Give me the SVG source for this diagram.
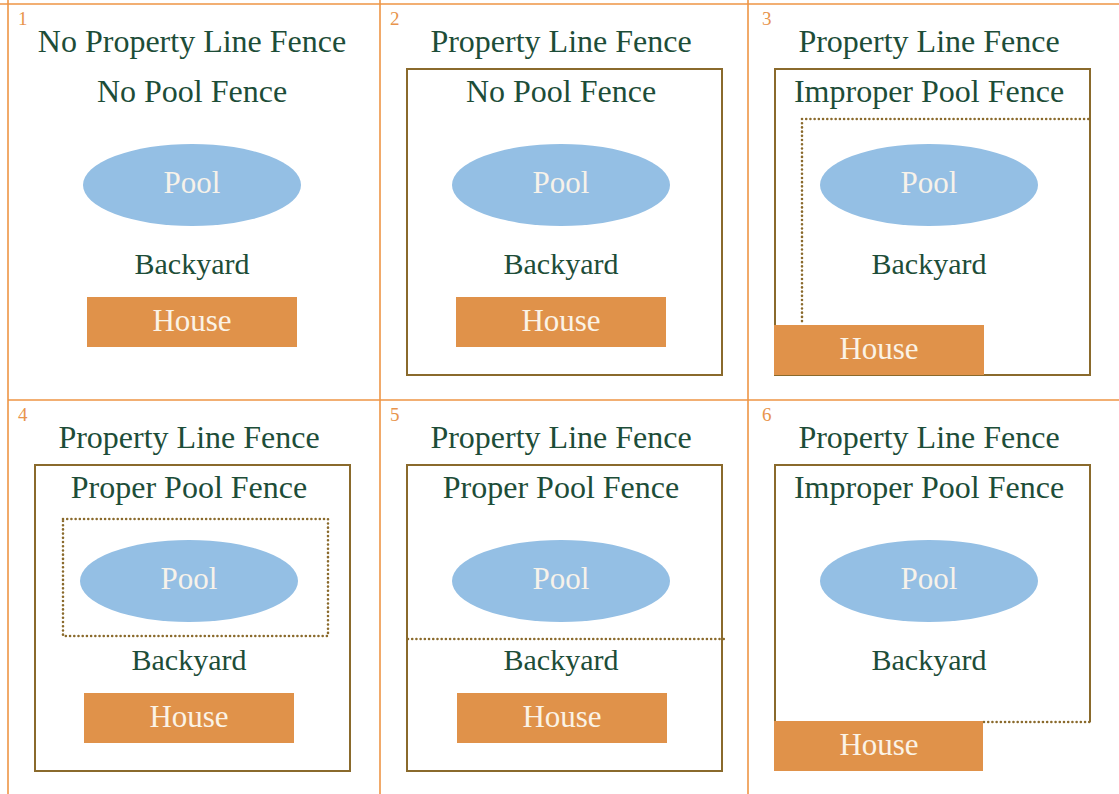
<svg xmlns="http://www.w3.org/2000/svg" width="1119" height="794" viewBox="0 0 1119 794">
  <style>
    text { font-family: "Liberation Serif", "Times New Roman", serif; text-anchor: middle; }
    .lbl { font-size: 32px; fill: #1D4D38; }
    .yard { font-size: 30px; fill: #1D4D38; }
    .pooltxt { font-size: 31px; fill: #F7F2EA; }
    .housetxt { font-size: 31px; fill: #FBF3E6; }
    .num { font-size: 19px; fill: #E8944C; text-anchor: start; }
    .grid { stroke: #EE9545; stroke-width: 1.6; fill: none; }
    .pool { fill: #94BFE4; }
    .house { fill: #E0924A; }
    .fence { fill: none; stroke: #8A6A2C; stroke-width: 2; }
    .dots { fill: none; stroke: #8A6A2C; stroke-width: 2.6; stroke-linecap: round; stroke-dasharray: 0.01 4.2; }
  </style>
  <rect width="1119" height="794" fill="#FFFFFF"/>

  <!-- cell grid -->
  <g id="grid" class="grid">
    <line x1="0" y1="4" x2="1119" y2="4"/>
    <line x1="8" y1="400" x2="1119" y2="400"/>
    <line x1="8" y1="0" x2="8" y2="794"/>
    <line x1="380" y1="0" x2="380" y2="794"/>
    <line x1="748" y1="0" x2="748" y2="794"/>
  </g>

  <!-- fences (lines between areas) -->
  <g id="connectors">
    <rect class="fence" x="407" y="69" width="315" height="306"/>
    <rect class="fence" x="775" y="69" width="315" height="306"/>
    <path class="dots" d="M802,119 H1092 M802,119 V325"/>
    <rect class="fence" x="35" y="465" width="315" height="306"/>
    <rect class="dots" x="63" y="519" width="265" height="117"/>
    <rect class="fence" x="407" y="465" width="315" height="306"/>
    <path class="dots" d="M408,639 H724"/>
    <path class="fence" d="M775,722 V465 H1090 V722"/>
    <path class="dots" d="M984,722 H1091"/>
  </g>

  <!-- panel 1 -->
  <g id="panel1">
    <text class="num" x="18" y="25">1</text>
    <text class="lbl" x="192" y="52">No Property Line Fence</text>
    <text class="lbl" x="192" y="102">No Pool Fence</text>
    <g id="pool1"><ellipse class="pool" cx="192" cy="185" rx="109" ry="41"/><text class="pooltxt" x="192" y="193">Pool</text></g>
    <text class="yard" x="192" y="274">Backyard</text>
    <g id="house1"><rect class="house" x="87" y="297" width="210" height="50"/><text class="housetxt" x="192" y="331">House</text></g>
  </g>

  <!-- panel 2 -->
  <g id="panel2">
    <text class="num" x="390" y="25">2</text>
    <text class="lbl" x="561" y="52">Property Line Fence</text>
    <text class="lbl" x="561" y="102">No Pool Fence</text>
    <g id="pool2"><ellipse class="pool" cx="561" cy="185" rx="109" ry="41"/><text class="pooltxt" x="561" y="193">Pool</text></g>
    <text class="yard" x="561" y="274">Backyard</text>
    <g id="house2"><rect class="house" x="456" y="297" width="210" height="50"/><text class="housetxt" x="561" y="331">House</text></g>
  </g>

  <!-- panel 3 -->
  <g id="panel3">
    <text class="num" x="762" y="25">3</text>
    <text class="lbl" x="929" y="52">Property Line Fence</text>
    <text class="lbl" x="929" y="102">Improper Pool Fence</text>
    <g id="pool3"><ellipse class="pool" cx="929" cy="185" rx="109" ry="41"/><text class="pooltxt" x="929" y="193">Pool</text></g>
    <text class="yard" x="929" y="274">Backyard</text>
    <g id="house3"><rect class="house" x="774" y="325" width="210" height="50"/><text class="housetxt" x="879" y="359">House</text></g>
  </g>

  <!-- panel 4 -->
  <g id="panel4">
    <text class="num" x="18" y="421">4</text>
    <text class="lbl" x="189" y="448">Property Line Fence</text>
    <text class="lbl" x="189" y="498">Proper Pool Fence</text>
    <g id="pool4"><ellipse class="pool" cx="189" cy="581" rx="109" ry="41"/><text class="pooltxt" x="189" y="589">Pool</text></g>
    <text class="yard" x="189" y="670">Backyard</text>
    <g id="house4"><rect class="house" x="84" y="693" width="210" height="50"/><text class="housetxt" x="189" y="727">House</text></g>
  </g>

  <!-- panel 5 -->
  <g id="panel5">
    <text class="num" x="390" y="421">5</text>
    <text class="lbl" x="561" y="448">Property Line Fence</text>
    <text class="lbl" x="561" y="498">Proper Pool Fence</text>
    <g id="pool5"><ellipse class="pool" cx="561" cy="581" rx="109" ry="41"/><text class="pooltxt" x="561" y="589">Pool</text></g>
    <text class="yard" x="561" y="670">Backyard</text>
    <g id="house5"><rect class="house" x="457" y="693" width="210" height="50"/><text class="housetxt" x="562" y="727">House</text></g>
  </g>

  <!-- panel 6 -->
  <g id="panel6">
    <text class="num" x="762" y="421">6</text>
    <text class="lbl" x="929" y="448">Property Line Fence</text>
    <text class="lbl" x="929" y="498">Improper Pool Fence</text>
    <g id="pool6"><ellipse class="pool" cx="929" cy="581" rx="109" ry="41"/><text class="pooltxt" x="929" y="589">Pool</text></g>
    <text class="yard" x="929" y="670">Backyard</text>
    <g id="house6"><rect class="house" x="774" y="721" width="209" height="50"/><text class="housetxt" x="879" y="755">House</text></g>
  </g>
</svg>
